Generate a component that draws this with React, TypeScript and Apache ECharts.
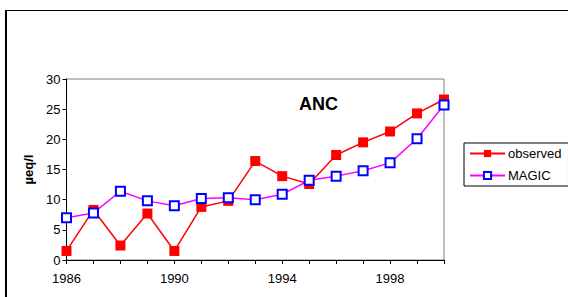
import React, { useEffect, useRef } from "react";
import * as echarts from "echarts";

const years = ["1986","1987","1988","1989","1990","1991","1992","1993","1994","1995","1996","1997","1998","1999","2000"];
const observed = [1.5, 8.3, 2.4, 7.7, 1.5, 8.8, 9.8, 16.4, 13.9, 12.6, 17.4, 19.5, 21.3, 24.3, 26.6];
const magic = [7.0, 7.8, 11.4, 9.8, 9.0, 10.2, 10.3, 10.0, 10.9, 13.2, 13.9, 14.8, 16.1, 20.1, 25.7];
const yTicks = { min: 0, max: 30, interval: 5 };

const FONT = "'Liberation Sans', Arial, sans-serif";

export default function App() {
  const ref = useRef<HTMLDivElement>(null);
  useEffect(() => {
    if (!ref.current) return;
    const chart = echarts.init(ref.current, undefined, { renderer: "svg" });
    chart.setOption({
      animation: false,
      backgroundColor: "#fff",
      textStyle: { fontFamily: FONT },
      title: {
        text: "ANC",
        left: 318.5,
        top: 95,
        textAlign: "center",
        padding: 0,
        textStyle: { fontFamily: FONT, fontSize: 18, fontWeight: "bold", color: "#000" },
      },
      graphic: [
        { type: "line", shape: { x1: 6, y1: 10, x2: 6, y2: 300 }, style: { stroke: "#000", lineWidth: 2 } },
        { type: "line", shape: { x1: 5, y1: 10.5, x2: 570, y2: 10.5 }, style: { stroke: "#000", lineWidth: 1 } },
      ],
      legend: {
        left: 464,
        top: 143,
        orient: "vertical",
        padding: [4, 7, 4, 5],
        itemGap: 9,
        itemWidth: 35,
        itemHeight: 9,
        itemStyle: {},
        borderColor: "#000",
        borderWidth: 1,
        textStyle: { fontFamily: FONT, fontSize: 13, color: "#000", padding: [0, 0, 0, -2] },
        data: ["observed", "MAGIC"],
      },
      grid: { left: 66.5, top: 79, right: 124, bottom: 37, show: true, borderColor: "#808080", borderWidth: 1 },
      xAxis: {
        type: "category",
        data: years,
        boundaryGap: false,
        axisLine: { lineStyle: { color: "#000", width: 1 } },
        axisTick: { interval: 0, length: 4, lineStyle: { color: "#000" } },
        axisLabel: { interval: 3, margin: 12, fontFamily: FONT, fontSize: 13, color: "#000" },
        splitLine: { show: false },
      },
      yAxis: {
        type: "value",
        min: yTicks.min,
        max: yTicks.max,
        interval: yTicks.interval,
        name: "µeq/l",
        nameLocation: "middle",
        nameGap: 30,
        nameTextStyle: { fontFamily: FONT, fontSize: 13, fontWeight: "bold", color: "#000" },
        axisLine: { show: true, lineStyle: { color: "#000", width: 1 } },
        axisTick: { show: true, length: 4, lineStyle: { color: "#000" } },
        axisLabel: { margin: 6, fontFamily: FONT, fontSize: 13, color: "#000" },
        splitLine: { show: false },
      },
      series: [
        {
          name: "observed",
          type: "line",
          data: observed,
          symbol: "rect",
          symbolSize: 10,
          color: "#ff0000",
          lineStyle: { color: "#ff0000", width: 1.5 },
          itemStyle: { color: "#ff0000" },
        },
        {
          name: "MAGIC",
          type: "line",
          data: magic,
          symbol: "rect",
          symbolSize: 9,
          color: "#ff00ff",
          lineStyle: { color: "#ff00ff", width: 1.5 },
          itemStyle: { color: "#ffffff", borderColor: "#0000ff", borderWidth: 2 },
        },
      ],
    });
    return () => chart.dispose();
  }, []);
  return (
    <div
      ref={ref}
      style={{ position: "absolute", left: 0, top: 0, width: 568, height: 297 }}
    />
  );
}
